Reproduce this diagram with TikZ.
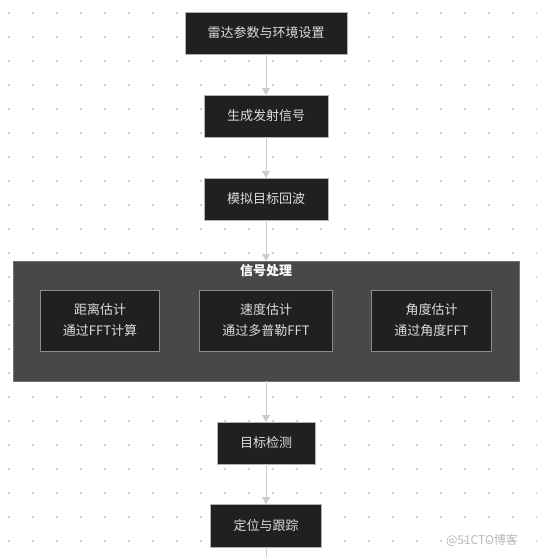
\documentclass[tikz,border=0pt]{standalone}
\usepackage{fontspec}
\newfontfamily\cjk{Noto Sans CJK SC}
\usepackage{xcolor}
\usepackage{tikz}
\usetikzlibrary{arrows.meta,positioning,fit,backgrounds}

\definecolor{boxfill}{HTML}{1F2020}
\definecolor{groupfill}{HTML}{474847}
\definecolor{txtcol}{HTML}{DCDCDC}
\definecolor{dotcol}{HTML}{CDCDCD}
\definecolor{linecol}{HTML}{CCCCCC}

\begin{document}
\begin{tikzpicture}[
    x=1pt, y=-1pt,
    node distance=41pt,
    block/.style={draw=black!30, fill=boxfill, line width=0.8pt, outer sep=0pt, minimum height=42pt, align=center, text=txtcol, font=\cjk\fontsize{13}{21}\selectfont},
    inner/.style={block, draw=black!45, minimum height=61pt},
    group/.style={draw=black!55, fill=groupfill, line width=0.8pt, outer sep=0pt, minimum width=506pt, minimum height=120pt},
    arrow/.style={-{Triangle[length=7pt,width=8pt]}, draw=linecol, line width=0.8pt, color=linecol}
]
    \useasboundingbox (0,0) rectangle (536,557);

    % dot grid
    \foreach \i in {0,...,22} {
        \foreach \j in {0,...,22} {
            \fill[dotcol] (9+24*\i,13+24*\j) circle (1.4pt);
        }
    }

    % main chain
    \node[block, minimum width=162pt] (params) at (266,33) {雷达参数与环境设置};
    \node[block, minimum width=124pt, below=of params] (txsig) {生成发射信号};
    \node[block, minimum width=124pt, below=of txsig] (echo) {模拟目标回波};

    % signal processing group
    \node[group, below=of echo] (proc) {};
    \node[font=\cjk\bfseries\fontsize{13}{16}\selectfont, text=white, below=0pt of proc.north] (proctitle) {信号处理};
    \node[inner, minimum width=133pt] (speed) at (266,320.5) {速度估计\\通过多普勒FFT};
    \node[inner, minimum width=119pt, left=40pt of speed] (range) {距离估计\\通过FFT计算};
    \node[inner, minimum width=120pt, right=39pt of speed] (angle) {角度估计\\通过角度FFT};

    % detection and tracking
    \node[block, minimum width=98pt, below=of proc] (detect) {目标检测};
    \node[block, minimum width=111pt, minimum height=43pt, below=40pt of detect] (track) {定位与跟踪};
    \coordinate (tail) at (266,557);

    % watermark
    \node[font=\cjk\fontsize{12}{14}\selectfont, text=black!28] (mark) at (482,540) {@51CTO博客};

    % Arrows
    \draw[arrow] (params) -- (txsig);
    \draw[arrow] (txsig) -- (echo);
    \draw[arrow] (echo) -- (proc);
    \draw[arrow] (proc) -- (detect);
    \draw[arrow] (detect) -- (track);
    \draw[draw=linecol, line width=0.8pt] (track) -- (tail);

\end{tikzpicture}
\end{document}
